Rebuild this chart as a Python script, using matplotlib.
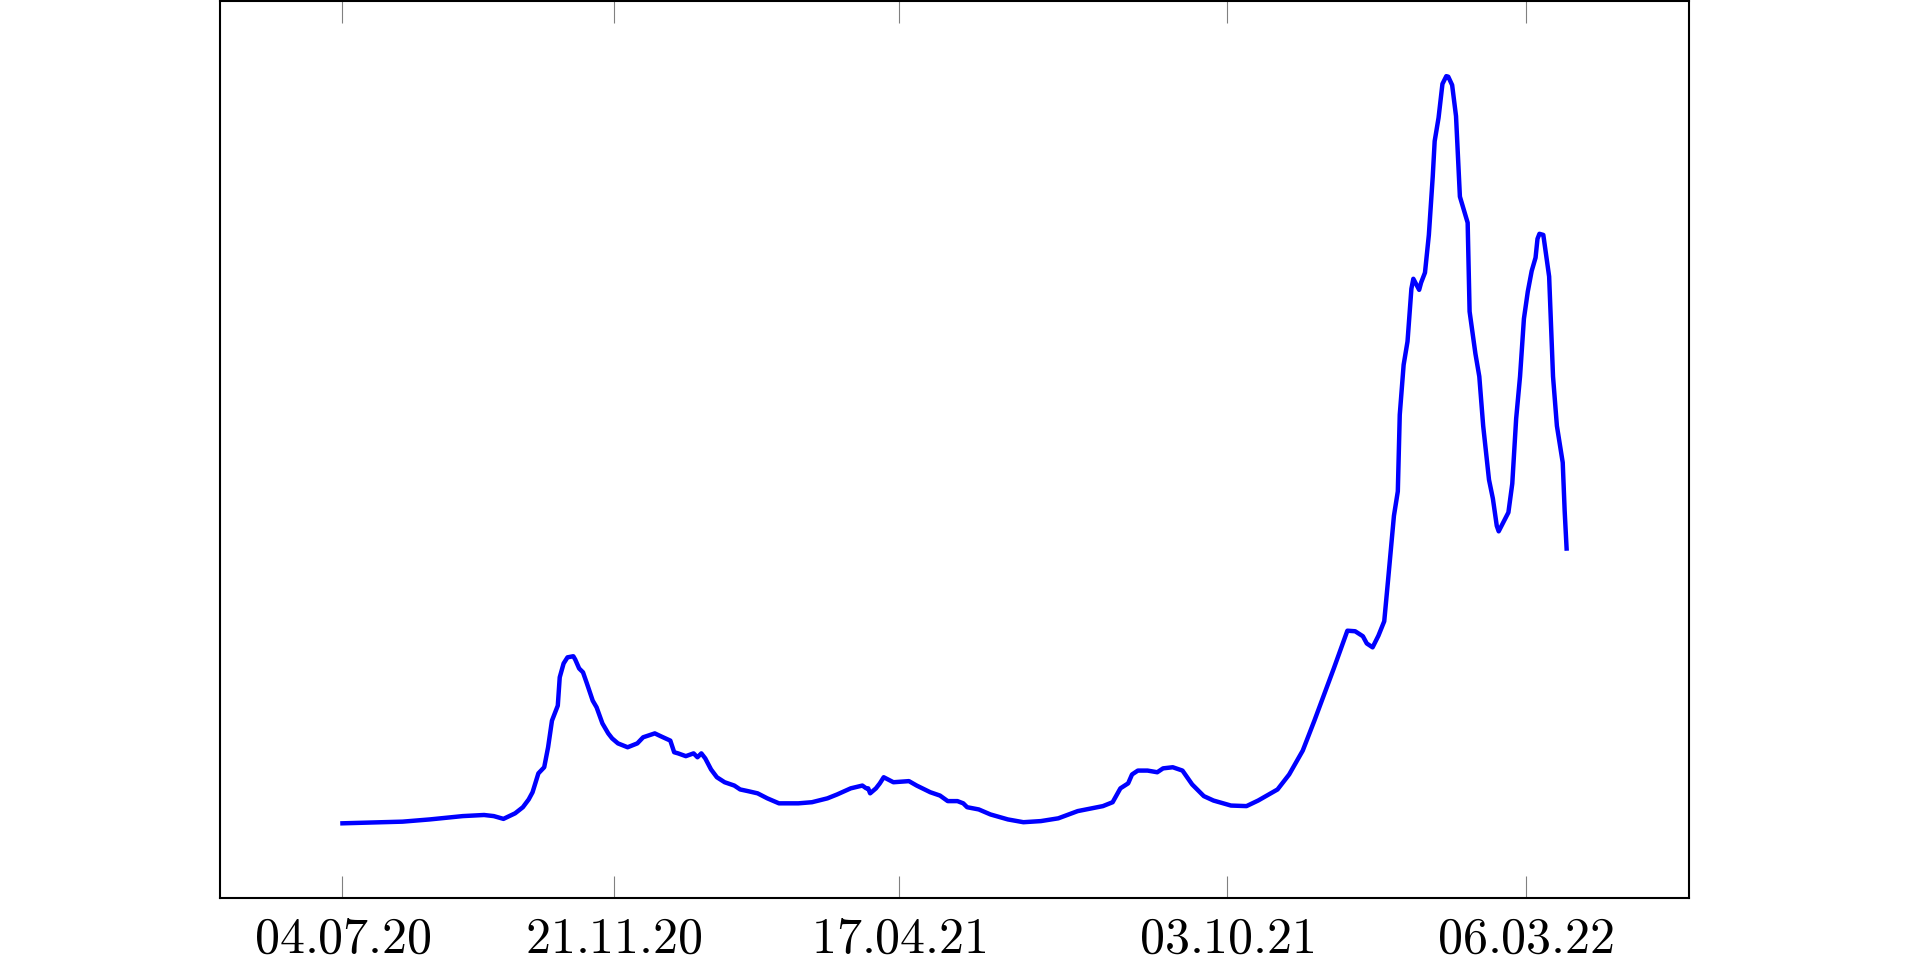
import numpy as np
import pandas as pd
import matplotlib
matplotlib.use('Agg')
import matplotlib.pyplot as plt

plt.rcParams['mathtext.fontset'] = 'cm'

# sampled points of the curve
dates = [
    '2020-07-04', '2020-07-24', '2020-08-04', '2020-08-18', '2020-09-04', '2020-09-15',
    '2020-09-20', '2020-09-25', '2020-10-01', '2020-10-05', '2020-10-08', '2020-10-10',
    '2020-10-13', '2020-10-16', '2020-10-18', '2020-10-20', '2020-10-23', '2020-10-24',
    '2020-10-26', '2020-10-28', '2020-10-31', '2020-11-01', '2020-11-03', '2020-11-05',
    '2020-11-07', '2020-11-10', '2020-11-12', '2020-11-15', '2020-11-18', '2020-11-20',
    '2020-11-23', '2020-11-28', '2020-12-03', '2020-12-06', '2020-12-12', '2020-12-15',
    '2020-12-20', '2020-12-22', '2020-12-24', '2020-12-28', '2021-01-01', '2021-01-03',
    '2021-01-05', '2021-01-07', '2021-01-10', '2021-01-13', '2021-01-17', '2021-01-22',
    '2021-01-25', '2021-01-29', '2021-02-03', '2021-02-08', '2021-02-14', '2021-02-24',
    '2021-03-03', '2021-03-11', '2021-03-16', '2021-03-23', '2021-03-29', '2021-03-31',
    '2021-04-01', '2021-04-02', '2021-04-05', '2021-04-07', '2021-04-09', '2021-04-14',
    '2021-04-22', '2021-04-26', '2021-05-03', '2021-05-08', '2021-05-12', '2021-05-17',
    '2021-05-20', '2021-05-22', '2021-05-28', '2021-06-03', '2021-06-12', '2021-06-20',
    '2021-06-29', '2021-07-08', '2021-07-18', '2021-07-31', '2021-08-05', '2021-08-09',
    '2021-08-13', '2021-08-15', '2021-08-18', '2021-08-23', '2021-08-28', '2021-08-31',
    '2021-09-05', '2021-09-10', '2021-09-15', '2021-09-21', '2021-09-26', '2021-10-05',
    '2021-10-13', '2021-10-19', '2021-10-29', '2021-11-04', '2021-11-11', '2021-11-17',
    '2021-11-27', '2021-12-04', '2021-12-08', '2021-12-12', '2021-12-14', '2021-12-17',
    '2021-12-20', '2021-12-23', '2021-12-25', '2021-12-28', '2021-12-30', '2021-12-31',
    '2022-01-02', '2022-01-04', '2022-01-06', '2022-01-07', '2022-01-10', '2022-01-11',
    '2022-01-13', '2022-01-15', '2022-01-17', '2022-01-18', '2022-01-20', '2022-01-22',
    '2022-01-24', '2022-01-25', '2022-01-27', '2022-01-29', '2022-01-31', '2022-02-04',
    '2022-02-05', '2022-02-08', '2022-02-10', '2022-02-12', '2022-02-15', '2022-02-17',
    '2022-02-19', '2022-02-20', '2022-02-25', '2022-02-27', '2022-03-01', '2022-03-03',
    '2022-03-05', '2022-03-07', '2022-03-09', '2022-03-11', '2022-03-12', '2022-03-13',
    '2022-03-15', '2022-03-18', '2022-03-20', '2022-03-22', '2022-03-25', '2022-03-26',
    '2022-03-27',
]
values = [
    5, 7, 8, 12, 18, 20,
    18, 13, 23, 34, 48, 61,
    95, 106, 142, 190, 217, 268,
    293, 304, 306, 300, 284, 277,
    257, 226, 214, 185, 167, 158,
    149, 142, 149, 160, 167, 162,
    154, 133, 131, 126, 131, 124,
    131, 122, 102, 88, 79, 73,
    66, 63, 59, 50, 41, 41,
    43, 50, 57, 68, 73, 68,
    68, 59, 68, 77, 88, 79,
    81, 73, 61, 55, 45, 45,
    41, 34, 30, 21, 12, 7,
    9, 14, 27, 36, 43, 68,
    77, 93, 100, 100, 97, 104,
    106, 100, 75, 54, 46, 37,
    36, 46, 66, 93, 136, 190,
    284, 352, 351, 342, 329, 322,
    343, 369, 444, 559, 603, 741,
    831, 873, 968, 986, 966, 979,
    997, 1065, 1170, 1234, 1276, 1337,
    1351, 1350, 1335, 1279, 1134, 1087,
    927, 851, 810, 721, 624, 590,
    541, 531, 565, 617, 734, 810,
    914, 963, 1000, 1024, 1058, 1067,
    1065, 990, 810, 721, 655, 568,
    500,
]

tick_dates = ['2020-07-04', '2020-11-21', '2021-04-17', '2021-10-03', '2022-03-06']

x = pd.to_datetime(dates)
y = np.array(values)
ticks = pd.to_datetime(tick_dates)

fig = plt.figure(figsize=(19.1, 9.65), dpi=100)
ax = fig.add_axes([0.1152, 0.0694, 0.7691, 0.9291])

ax.plot(x, y, color=(0, 0, 1), lw=3.2, solid_joinstyle='round')

# pgfplots style 10% enlargement of the limits
span = x.max() - x.min()
ax.set_xlim(x.min() - 0.1 * span, x.max() + 0.1 * span)
yr = y.max() - y.min()
ax.set_ylim(y.min() - 0.1 * yr, y.max() + 0.1 * yr)

ax.set_xticks(ticks)
ax.set_xticklabels([r'$\mathrm{' + t.strftime('%d.%m.%y') + '}$' for t in ticks], fontsize=36)
ax.set_yticks([])
ax.tick_params(axis='x', direction='in', length=16, width=0.8, color='#808080',
               top=True, bottom=True, pad=12)

for s in ax.spines.values():
    s.set_linewidth(1.5)
    s.set_color('black')

fig.savefig('out.png', dpi=100)
